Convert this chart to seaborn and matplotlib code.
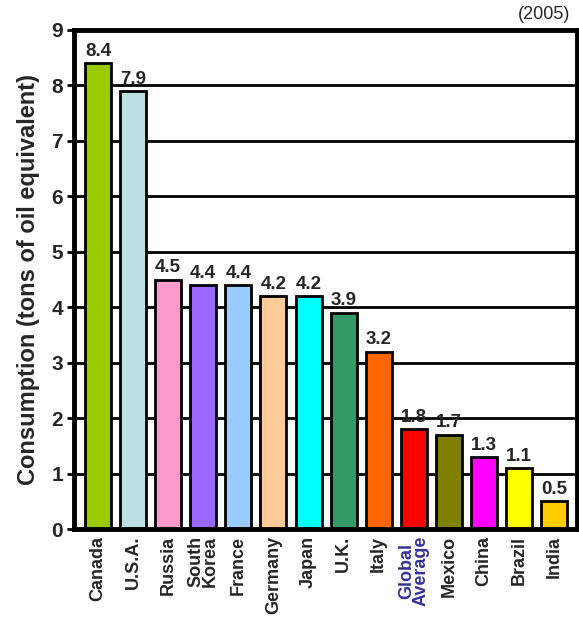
import matplotlib
matplotlib.use("Agg")
import matplotlib.pyplot as plt
import seaborn as sns
import pandas as pd

countries = ["Canada", "U.S.A.", "Russia", "South\nKorea", "France", "Germany", "Japan",
             "U.K.", "Italy", "Global\nAverage", "Mexico", "China", "Brazil", "India"]
consumption = [8.4, 7.9, 4.5, 4.4, 4.4, 4.2, 4.2, 3.9, 3.2, 1.8, 1.7, 1.3, 1.1, 0.5]
bar_colors = ["#99CC00", "#BBE0E3", "#FF99CC", "#9966FF", "#99CCFF", "#FFCC99", "#00FFFF",
              "#339966", "#FF6600", "#FF0000", "#808000", "#FF00FF", "#FFFF00", "#FFCC00"]
y_ticks = [0, 1, 2, 3, 4, 5, 6, 7, 8, 9]

sns.set_style("white")
plt.rcParams["font.family"] = ["Liberation Sans", "DejaVu Sans"]

df = pd.DataFrame({"country": countries, "value": consumption})

fig = plt.figure(figsize=(5.79, 6.17), dpi=100)
ax = fig.add_axes([0.128, 0.1426, 0.8685, 0.8088])

for y in y_ticks[1:-1]:
    ax.axhline(y, color="black", lw=2, zorder=0)

sns.barplot(data=df, x="country", y="value", hue="country", palette=bar_colors,
            legend=False, width=0.74, edgecolor="black", linewidth=2, saturation=1,
            ax=ax, zorder=2)

for i, v in enumerate(consumption):
    ax.text(i, v + 0.06, f"{v}", ha="center", va="bottom", fontsize=13.5,
            fontweight="bold", zorder=3)

ax.set_xlim(-0.68, 13.65)
ax.set_ylim(0, 9)
ax.set_yticks(y_ticks)
ax.set_yticklabels([str(t) for t in y_ticks], fontsize=15, fontweight="bold")
ax.set_xticks(range(len(countries)))
ax.set_xticklabels(countries, rotation=90, fontsize=13, fontweight="bold",
                   linespacing=0.8)
for lbl in ax.get_xticklabels():
    if lbl.get_text().startswith("Global"):
        lbl.set_color("#333399")

ax.tick_params(axis="y", length=5, width=2, color="black", pad=3, left=True)
ax.tick_params(axis="x", length=0, pad=5)
ax.set_xlabel("")
ax.set_ylabel("Consumption (tons of oil equivalent)", fontsize=17,
              fontweight="bold", labelpad=8)

for side in ["left", "right", "top", "bottom"]:
    ax.spines[side].set_visible(True)
    ax.spines[side].set_color("black")
    ax.spines[side].set_linewidth(3.5)

fig.text(0.985, 0.976, "(2005)", ha="right", va="center", fontsize=13)

fig.savefig("out.png", dpi=100)
